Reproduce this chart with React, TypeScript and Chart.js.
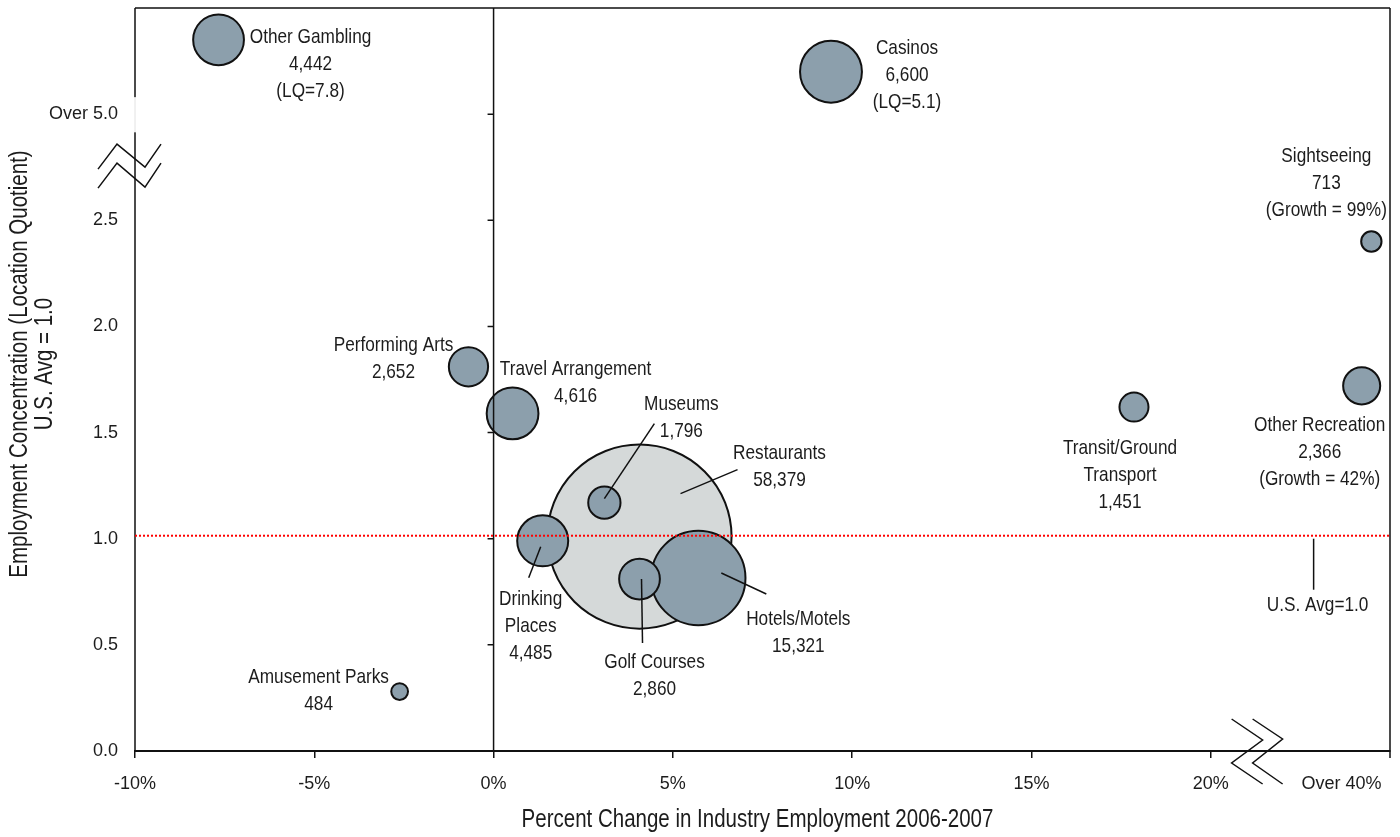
import React, { useEffect, useRef } from 'react';
import { Chart, registerables } from 'chart.js';

Chart.register(...registerables);

// ---------- data ----------
const INDUSTRIES = [
  'Restaurants', 'Hotels/Motels', 'Golf Courses', 'Drinking Places', 'Museums',
  'Travel Arrangement', 'Performing Arts', 'Amusement Parks', 'Other Gambling',
  'Casinos', 'Transit/Ground Transport', 'Sightseeing', 'Other Recreation',
];
// percent change in employment 2006-2007 (plotted position, right edge = "Over 40%")
const GROWTH_PCT = [4.07, 5.71, 4.07, 1.37, 3.09, 0.53, -0.7, -2.62, -7.67, 9.41, 17.86, 24.48, 24.21];
// location quotient (plotted position, top band = "Over 5.0")
const LQ_PLOTTED = [1.01, 0.815, 0.81, 0.99, 1.17, 1.59, 1.81, 0.28, 3.35, 3.2, 1.62, 2.4, 1.72];
const EMPLOYMENT = [58379, 15321, 2860, 4485, 1796, 4616, 2652, 484, 4442, 6600, 1451, 713, 2366];
const NOTES = ['', '', '', '', '', '', '', '', '(LQ=7.8)', '(LQ=5.1)', '', '(Growth = 99%)', '(Growth = 42%)'];
const NAME_LINES = [
  ['Restaurants'], ['Hotels/Motels'], ['Golf Courses'], ['Drinking', 'Places'], ['Museums'],
  ['Travel Arrangement'], ['Performing Arts'], ['Amusement Parks'], ['Other Gambling'],
  ['Casinos'], ['Transit/Ground', 'Transport'], ['Sightseeing'], ['Other Recreation'],
];

const X_TICKS = [-10, -5, 0, 5, 10, 15, 20];
const X_OVER = 23.65;
const X_OVER_LABEL = 'Over 40%';
const Y_TICKS = [0, 0.5, 1, 1.5, 2, 2.5, 3];
const Y_OVER = 3;
const Y_OVER_LABEL = 'Over 5.0';
const US_AVG = 1.0;
const US_AVG_LABEL = 'U.S. Avg=1.0';
const US_AVG_LABEL_X = 22.87;
const X_BREAK = 21.28;
const Y_BREAK = 2.755;

const X_TITLE = 'Percent Change in Industry Employment 2006-2007';
const Y_TITLE_1 = 'Employment Concentration (Location Quotient)';
const Y_TITLE_2 = 'U.S. Avg = 1.0';

// ---------- styling / layout ----------
const FONT = '"Liberation Sans", Arial, sans-serif';
const SQUEEZE = 0.82;
const TEXT = '#1c1c1c';
const BUBBLE_FILL = '#8c9fac';
const BIG_FILL = '#d5d9d9';
const RADIUS_K = 0.381;
const LINE_H = 27;
// label offset (px) of the first text line centre from the bubble centre
const LABEL_OFFSET: [number, number][] = [
  [140, -83], [100, 41], [15, 83], [-12, 58], [77, -98],
  [63, -44], [-75, -22], [-81, -14], [92, -3],
  [76, -23], [-14, 41], [-45, -85], [-42, 39],
];
// leader lines (px offsets from bubble centre): [x1,y1,x2,y2]
const LEADERS: (number[] | null)[] = [
  [41, -43, 98, -67], [23, -5, 68, 16], [2, 0, 3, 64], [-2, 6, -14, 37], [0, -4, 50, -79],
  null, null, null, null, null, null, null, null,
];

const fmt = (n: number) => n.toLocaleString('en-US');

function narrowText(ctx: CanvasRenderingContext2D, t: string, x: number, y: number) {
  ctx.save();
  ctx.translate(x, y);
  ctx.scale(SQUEEZE, 1);
  ctx.fillText(t, 0, 0);
  ctx.restore();
}

const overlay = {
  id: 'overlay',
  afterDraw(chart: any) {
    const { ctx, chartArea, scales } = chart;
    const { left, right, top, bottom } = chartArea;
    const xs = scales.x;
    const ys = scales.y;
    ctx.save();
    ctx.lineCap = 'butt';

    // frame
    ctx.strokeStyle = '#111';
    ctx.lineWidth = 1.5;
    const yOver = ys.getPixelForValue(Y_OVER);
    ctx.beginPath();
    ctx.moveTo(left, top); ctx.lineTo(right, top);
    ctx.moveTo(right, top); ctx.lineTo(right, bottom);
    ctx.moveTo(left, top); ctx.lineTo(left, yOver - 17);
    ctx.moveTo(left, yOver + 18); ctx.lineTo(left, bottom);
    ctx.stroke();
    ctx.strokeStyle = '#e2e2e2';
    ctx.lineWidth = 1;
    ctx.beginPath();
    ctx.moveTo(left, yOver - 17); ctx.lineTo(left, yOver + 18);
    ctx.stroke();

    // 0% vertical axis with ticks
    const x0 = xs.getPixelForValue(0);
    ctx.strokeStyle = '#111';
    ctx.lineWidth = 1.5;
    ctx.beginPath();
    ctx.moveTo(x0, top); ctx.lineTo(x0, bottom);
    Y_TICKS.forEach((v) => {
      if (v === 0) return;
      const py = ys.getPixelForValue(v);
      ctx.moveTo(x0 - 6, py); ctx.lineTo(x0, py);
    });
    ctx.moveTo(right, bottom); ctx.lineTo(right, bottom + 7);
    ctx.stroke();

    // red dotted U.S. average line
    const yAvg = ys.getPixelForValue(US_AVG);
    ctx.strokeStyle = '#ff0000';
    ctx.lineWidth = 2;
    ctx.setLineDash([2, 2]);
    ctx.beginPath();
    ctx.moveTo(left, yAvg - 3); ctx.lineTo(right, yAvg - 3);
    ctx.stroke();
    ctx.setLineDash([]);

    // axis breaks
    ctx.strokeStyle = '#111';
    ctx.lineWidth = 1.5;
    const lbY = ys.getPixelForValue(Y_BREAK);
    const zig = (bx: number, by: number, pts: number[][]) => {
      ctx.beginPath();
      pts.forEach((p, i) => (i ? ctx.lineTo(bx + p[0], by + p[1]) : ctx.moveTo(bx + p[0], by + p[1])));
      ctx.stroke();
    };
    zig(left, lbY, [[-37, 3], [-18, -22], [10, 1], [26, -22]]);
    zig(left, lbY, [[-37, 22], [-18, -3], [10, 21], [26, -3]]);
    const bx = xs.getPixelForValue(X_BREAK);
    zig(bx, bottom, [[-25, -32], [6, -11], [-25, 12], [6, 33]]);
    zig(bx, bottom, [[-4, -32], [26, -12], [-4, 12], [26, 33]]);

    // leader lines and labels
    const meta = chart.getDatasetMeta(0);
    ctx.fillStyle = TEXT;
    ctx.textAlign = 'center';
    ctx.textBaseline = 'middle';
    ctx.font = `21px ${FONT}`;
    meta.data.forEach((el: any, i: number) => {
      const cx = el.x;
      const cy = el.y;
      const ld = LEADERS[i];
      if (ld) {
        ctx.strokeStyle = '#111';
        ctx.lineWidth = 1.5;
        ctx.beginPath();
        ctx.moveTo(cx + ld[0], cy + ld[1]);
        ctx.lineTo(cx + ld[2], cy + ld[3]);
        ctx.stroke();
      }
      const lines = [...NAME_LINES[i], fmt(EMPLOYMENT[i])];
      if (NOTES[i]) lines.push(NOTES[i]);
      const [dx, dy] = LABEL_OFFSET[i];
      lines.forEach((t, k) => narrowText(ctx, t, cx + dx, cy + dy + k * LINE_H));
    });

    // U.S. Avg annotation
    const ax = xs.getPixelForValue(US_AVG_LABEL_X);
    ctx.strokeStyle = '#111';
    ctx.lineWidth = 1.5;
    ctx.beginPath();
    ctx.moveTo(ax, yAvg); ctx.lineTo(ax, yAvg + 51);
    ctx.stroke();
    narrowText(ctx, US_AVG_LABEL, ax + 4, yAvg + 66);

    // axis titles
    ctx.font = `25px ${FONT}`;
    narrowText(ctx, X_TITLE, (left + right) / 2 - 5, 820);
    ctx.save();
    ctx.translate(20, 364);
    ctx.rotate(-Math.PI / 2);
    narrowText(ctx, Y_TITLE_1, 0, 0);
    narrowText(ctx, Y_TITLE_2, 0, 25);
    ctx.restore();

    ctx.restore();
  },
};

export default function App() {
  const ref = useRef<HTMLCanvasElement | null>(null);

  useEffect(() => {
    if (!ref.current) return;
    const data = INDUSTRIES.map((_, i) => ({
      x: GROWTH_PCT[i],
      y: LQ_PLOTTED[i],
      r: RADIUS_K * Math.sqrt(EMPLOYMENT[i]),
    }));
    const chart = new Chart(ref.current, {
      type: 'bubble',
      data: {
        datasets: [
          {
            data,
            backgroundColor: INDUSTRIES.map((_, i) => (i === 0 ? BIG_FILL : BUBBLE_FILL)),
            borderColor: '#111',
            borderWidth: 2,
            hoverRadius: 0,
            hoverBorderWidth: 2,
          },
        ],
      },
      options: {
        responsive: false,
        animation: false,
        events: [],
        layout: { autoPadding: false, padding: { top: 8, right: 10, left: 0, bottom: 0 } },
        plugins: { legend: { display: false }, tooltip: { enabled: false } },
        scales: {
          x: {
            type: 'linear',
            min: -10,
            max: 25,
            afterBuildTicks: (s: any) => {
              s.ticks = [...X_TICKS, X_OVER].map((v) => ({ value: v }));
            },
            afterFit: (s: any) => {
              s.height = 86;
              s.paddingLeft = 0;
              s.paddingRight = 0;
            },
            ticks: {
              autoSkip: false,
              maxRotation: 0,
              padding: 15,
              color: TEXT,
              font: { family: FONT, size: 18 },
              callback: (v: any) => (v === X_OVER ? X_OVER_LABEL : `${v}%`),
            },
            grid: {
              display: true,
              drawOnChartArea: false,
              drawTicks: true,
              tickLength: 7,
              lineWidth: 1.5,
              color: (c: any) => (c.tick && c.tick.value === X_OVER ? 'rgba(0,0,0,0)' : '#111'),
            },
            border: { display: true, color: '#111', width: 2 },
          },
          y: {
            type: 'linear',
            min: 0,
            max: 3.5,
            afterBuildTicks: (s: any) => {
              s.ticks = Y_TICKS.map((v) => ({ value: v }));
            },
            afterFit: (s: any) => {
              s.width = 135;
              s.paddingTop = 0;
              s.paddingBottom = 0;
            },
            ticks: {
              autoSkip: false,
              padding: 17,
              color: TEXT,
              font: { family: FONT, size: 18 },
              callback: (v: any) => (v === Y_OVER ? Y_OVER_LABEL : Number(v).toFixed(1)),
            },
            grid: { display: false, drawTicks: false },
            border: { display: false },
          },
        },
      },
      plugins: [overlay],
    });
    return () => chart.destroy();
  }, []);

  return (
    <div style={{ position: 'absolute', left: 0, top: 0, width: 1400, height: 837, background: '#fff' }}>
      <canvas ref={ref} width={1400} height={837} />
    </div>
  );
}
